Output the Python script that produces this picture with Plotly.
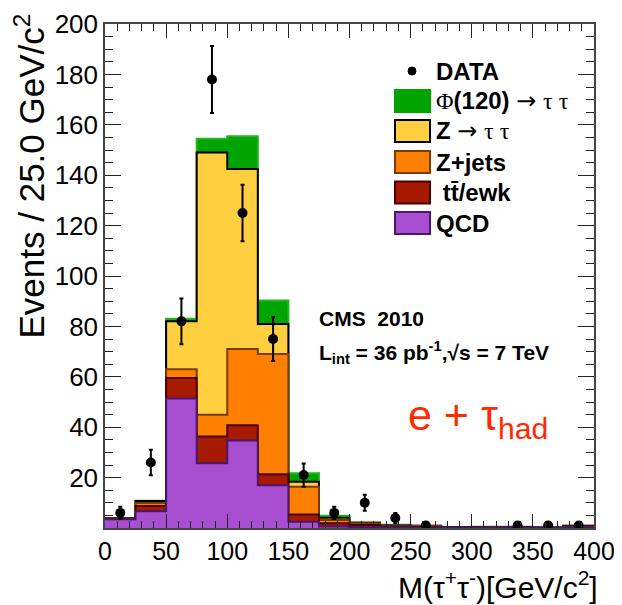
import plotly.graph_objects as go
import numpy as np

# ---------------- data ----------------
bin_edges = [0, 25, 50, 75, 100, 125, 150, 175, 200, 225, 250, 275, 300, 325, 350, 375, 400]
qcd     = [3.5, 6.6, 51.4, 25.7, 34.7, 17.0, 2.5, 0.6, 0.4, 0.3, 0.2, 0.2, 0.1, 0.3, 0.1, 0.4]
ttbar   = [0.2, 2.1, 8.1, 10.6, 6.1, 4.3, 2.9, 1.3, 0.8, 0.3, 0.2, 0.05, 0.05, 0.05, 0.02, 0.3]
zjets   = [0.1, 1.2, 3.5, 8.6, 30.2, 47.7, 11.0, 1.3, 0.7, 0.3, 0.4, 0.05, 0.05, 0.05, 0.03, 0.1]
ztautau = [0.1, 0.8, 19.0, 104.1, 71.5, 12.0, 2.0, 0.9, 0.2, 0.1, 0.05, 0.0, 0.05, 0.0, 0.0, 0.05]
signal  = [0.0, 0.1, 1.0, 5.5, 13.0, 9.3, 3.3, 0.8, 0.1, 0.3, 0.05, 0.05, 0.2, 0.05, 0.05, 0.05]
data_counts = [6, 26, 82, 178, 125, 75, 21, 6, 10, 4, 1, None, None, 1, 1, 1]
data_errors = [2.4, 5.1, 9.1, 13.3, 11.2, 8.7, 4.6, 2.4, 3.2, 2.0, 1.0, None, None, 1.0, 1.0, 1.0]
y_ticks = [20, 40, 60, 80, 100, 120, 140, 160, 180, 200]
x_ticks = [0, 50, 100, 150, 200, 250, 300, 350, 400]

# ---------------- styles ----------------
C_SIG, C_ZTT, C_ZJ, C_TT, C_QCD = "#00a400", "#ffcf40", "#ff7f00", "#a51a00", "#a74fd0"
L_SIG, L_ZTT, L_ZJ, L_TT, L_QCD = "#22b522", "#000000", "#7a3c00", "#4a0000", "#4a166e"
SANS = "Liberation Sans, Arial, sans-serif"
SERIF = "Liberation Serif, Times New Roman, serif"

# page body has an 8px margin: the figure is placed at (8, 8)
OFF = 8
W, H = 622 - OFF, 605 - OFF
PL, PR, PT, PB = 105, 594, 24, 528          # plot area in page pixels
PW, PH = PR - PL, PB - PT

def px(x):
    return (x - PL) / PW

def py(y):
    return (PB - y) / PH

edges = np.array(bin_edges, dtype=float)
centers = 0.5 * (edges[:-1] + edges[1:])

layers = [
    ([qcd, ttbar, zjets, ztautau, signal], C_SIG, L_SIG),
    ([qcd, ttbar, zjets, ztautau], C_ZTT, L_ZTT),
    ([qcd, ttbar, zjets], C_ZJ, L_ZJ),
    ([qcd, ttbar], C_TT, L_TT),
    ([qcd], C_QCD, L_QCD),
]

fig = go.Figure()
for comps, fc, lc in layers:
    cum = np.sum(np.array(comps, dtype=float), axis=0)
    yv = list(cum) + [cum[-1]]
    fig.add_trace(go.Scatter(
        x=list(edges), y=yv, mode="lines", line_shape="hv",
        fill="tozeroy", fillcolor=fc, line=dict(color=lc, width=2),
        showlegend=False, hoverinfo="skip"))

fig.add_trace(go.Scatter(
    x=list(centers), y=data_counts, mode="markers",
    marker=dict(color="black", size=10),
    error_y=dict(type="data", array=data_errors, color="black", thickness=2, width=2),
    showlegend=False))

axis_common = dict(
    showgrid=False, zeroline=False, showline=True, linecolor="#444", linewidth=1.5,
    mirror="allticks", ticks="inside", tickcolor="#222", tickwidth=1.3, automargin=False,
)
fig.update_xaxes(range=[0, 400], tickmode="array", tickvals=x_ticks, ticklen=14,
                 tickfont=dict(family=SANS, size=25, color="black"),
                 minor=dict(tickmode="linear", tick0=0, dtick=10, ticklen=7, ticks="inside",
                            tickcolor="#222", tickwidth=1.3),
                 **axis_common)
fig.update_yaxes(range=[0, 200], tickmode="array", tickvals=y_ticks, ticklen=16,
                 tickfont=dict(family=SANS, size=26, color="black"),
                 minor=dict(tickmode="linear", tick0=0, dtick=5, ticklen=8, ticks="inside",
                            tickcolor="#222", tickwidth=1.3),
                 **axis_common)

ann = []
# axis titles
ann.append(dict(x=px(599), y=py(605), xref="paper", yref="paper", xanchor="right", yanchor="bottom",
                text="M(τ<sup>+</sup>τ<sup>-</sup>)[GeV/c<sup>2</sup>]", showarrow=False, borderpad=0,
                font=dict(family=SANS, size=30, color="black")))
ann.append(dict(x=px(29), y=py(12), xref="paper", yref="paper", xanchor="center", yanchor="top",
                textangle=-90, text="Events / 25.0 GeV/c<sup>2</sup>", showarrow=False,
                font=dict(family=SANS, size=35, color="black")))

# legend
box_x0, box_x1, txt_x = 395, 430, 434
ser = f"font-family:{SERIF};font-weight:normal"
arr = "font-family:DejaVu Sans;font-weight:normal"
leg_rows = [
    (101, C_SIG, C_SIG,
     f"<span style='{ser}'>Φ</span>(120) <span style='{arr}'>→</span> <span style='{ser}'>τ τ</span>"),
    (131, C_ZTT, L_ZTT, f"Z <span style='{arr}'>→</span> <span style='{ser}'>τ τ</span>"),
    (162, C_ZJ, L_ZJ, "Z+jets"),
    (192.5, C_TT, L_TT, " tt\u0304/ewk"),
    (223, C_QCD, L_QCD, "QCD"),
]
shapes = []
for yc, fc, lc, label in leg_rows:
    shapes.append(dict(type="rect", xref="paper", yref="paper",
                       x0=px(box_x0), x1=px(box_x1), y0=py(yc + 11), y1=py(yc - 11),
                       fillcolor=fc, line=dict(color=lc, width=2)))
    ann.append(dict(x=px(txt_x), y=py(yc), xref="paper", yref="paper", xanchor="left",
                    yanchor="middle", text=f"<b>{label}</b>", showarrow=False,
                    font=dict(family=SANS, size=24, color="black")))
# DATA legend entry
shapes.append(dict(type="circle", xref="paper", yref="paper",
                   x0=px(408), x1=px(416), y0=py(75), y1=py(67),
                   fillcolor="black", line=dict(color="black", width=1)))
ann.append(dict(x=px(txt_x), y=py(71), xref="paper", yref="paper", xanchor="left",
                yanchor="middle", text="<b>DATA</b>", showarrow=False,
                font=dict(family=SANS, size=24, color="black")))

# CMS text
ann.append(dict(x=px(317), y=py(319), xref="paper", yref="paper", xanchor="left", yanchor="middle",
                text="<b>CMS  2010</b>", showarrow=False,
                font=dict(family=SANS, size=21, color="black")))
ann.append(dict(x=px(317), y=py(352), xref="paper", yref="paper", xanchor="left", yanchor="middle",
                text="<b>L<sub>int</sub> = 36 pb<sup>-1</sup>,√s = 7 TeV</b>", showarrow=False,
                font=dict(family=SANS, size=21, color="black")))
ann.append(dict(x=px(406), y=py(418), xref="paper", yref="paper", xanchor="left", yanchor="middle",
                text="e + τ<sub>had</sub>", showarrow=False,
                font=dict(family=SANS, size=43, color="#ff2a00")))

fig.update_layout(
    width=W, height=H,
    margin=dict(l=PL - OFF, r=W - (PR - OFF), t=PT - OFF, b=H - (PB - OFF)),
    paper_bgcolor="white", plot_bgcolor="white",
    annotations=ann, shapes=shapes, showlegend=False,
)

fig.write_html("out.html")
